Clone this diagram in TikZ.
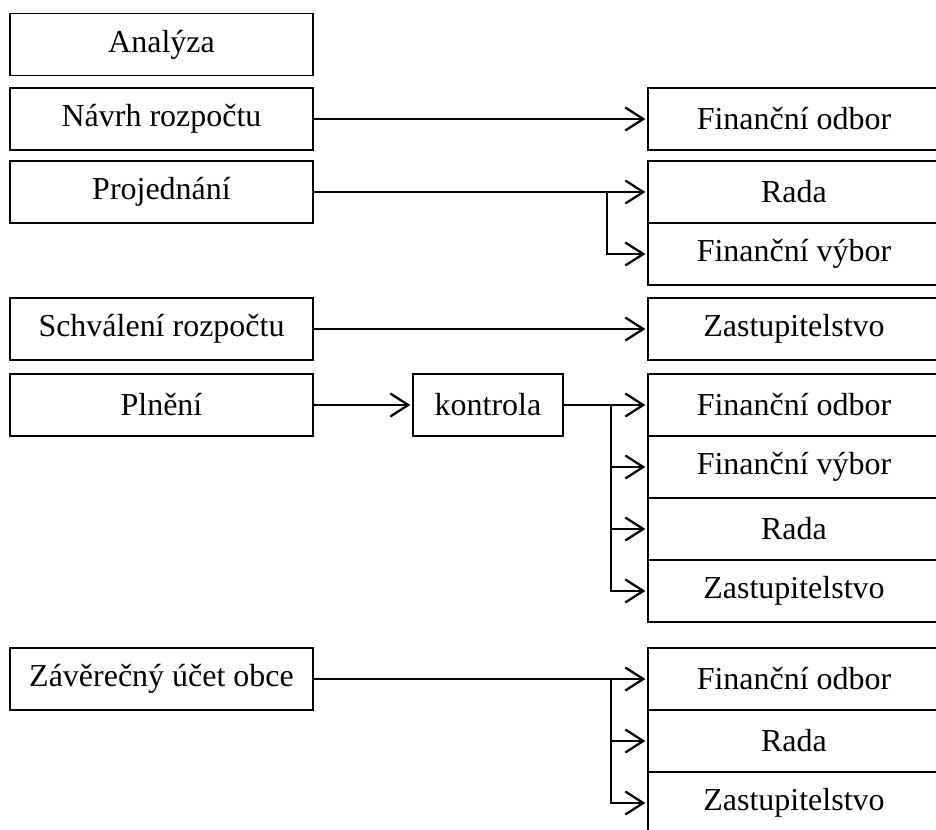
\documentclass[tikz,border=0pt]{standalone}
\usepackage{fontspec}
\setmainfont{Liberation Serif}
\usetikzlibrary{arrows.meta,positioning}
\begin{document}
\begin{tikzpicture}[x=0.02cm,y=-0.02cm,every node/.style={inner sep=1pt,font=\fontsize{18.2}{22}\selectfont}]
\tikzstyle{box}=[draw,line width=0.7pt,outer sep=0pt,minimum height=1.24cm,minimum width=6.06cm]
\tikzstyle{rbox}=[box,minimum width=5.84cm]
\tikzstyle{arrow}=[draw,line width=1.3pt,-{Straight Barb[length=0.36cm,width=0.46cm]},shorten >=1.5pt]
\useasboundingbox (0,0) rectangle (936,829);

\node[box](n0) at (161.5,44.5){Analýza};
\node[box](n1) at (161.5,119){Návrh rozpočtu};
\node[box](n2) at (161.5,192){Projednání};
\node[box](n3) at (161.5,329){Schválení rozpočtu};
\node[box](n4) at (161.5,405){Plnění};
\node[box,minimum width=3cm](k4) at (488,405){kontrola};
\node[box](n5) at (161.5,679){Závěrečný účet obce};

\node[rbox](r1) at (794,119){Finanční odbor};

\node[rbox](r21) at (794,192){Rada};
\node[rbox,below=0pt of r21](r22){Finanční výbor};

\node[rbox](r3) at (794,329){Zastupitelstvo};

\node[rbox](r41) at (794,405){Finanční odbor};
\node[rbox,below=0pt of r41](r42){Finanční výbor};
\node[rbox,below=0pt of r42](r43){Rada};
\node[rbox,below=0pt of r43](r44){Zastupitelstvo};

\node[rbox](r51) at (794,679){Finanční odbor};
\node[rbox,below=0pt of r51](r52){Rada};
\node[rbox,below=0pt of r52](r53){Zastupitelstvo};

\draw[arrow](n1.east)--(r1.west);

\draw[arrow](n2.east)--(r21.west);
\coordinate(b2) at (607,192);
\draw[arrow](b2)|-(r22.west);

\draw[arrow](n3.east)--(r3.west);

\draw[arrow](n4.east)--(k4.west);
\draw[arrow](k4.east)--(r41.west);
\coordinate(b4) at (611,405);
\foreach \i in {2,3,4}{\draw[arrow](b4)|-(r4\i.west);}

\draw[arrow](n5.east)--(r51.west);
\coordinate(b5) at (611,679);
\foreach \i in {2,3}{\draw[arrow](b5)|-(r5\i.west);}
\end{tikzpicture}
\end{document}
